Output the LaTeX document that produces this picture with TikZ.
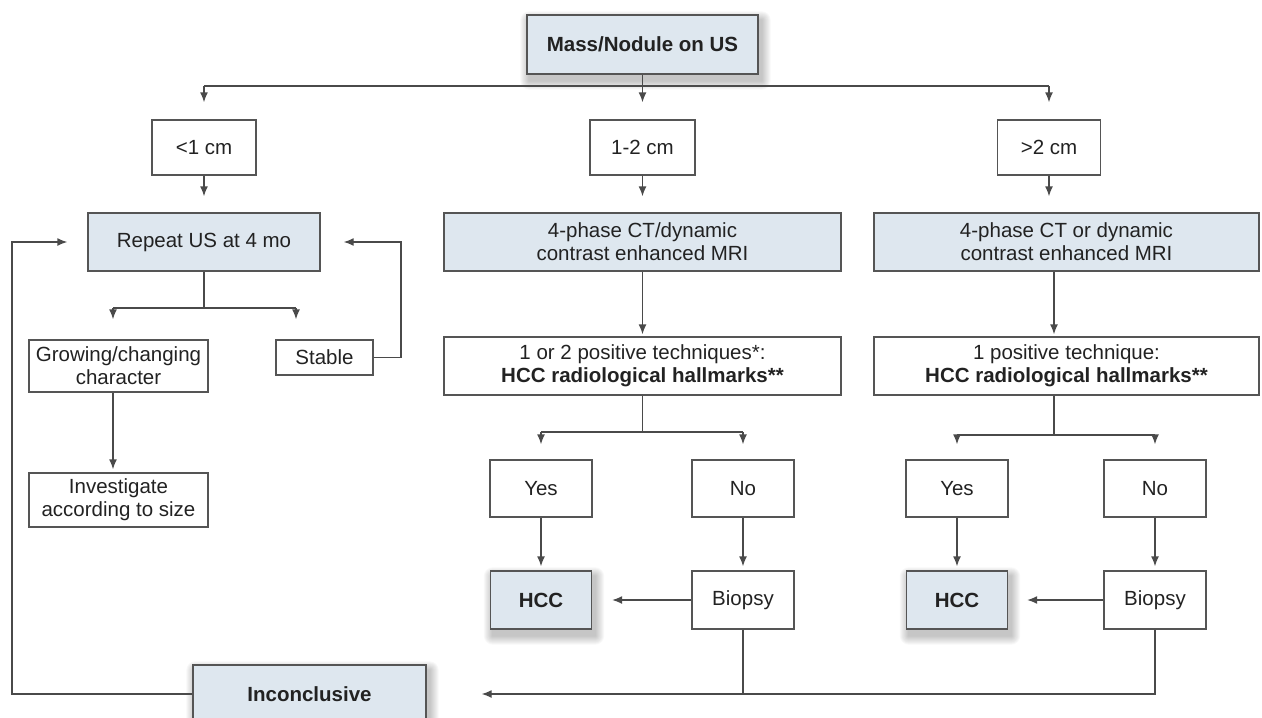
\documentclass[tikz,border=0pt]{standalone}
\usepackage{fontspec}
\setmainfont{Liberation Sans}
\usetikzlibrary{arrows.meta,backgrounds}
\definecolor{boxfill}{HTML}{DEE7EF}
\definecolor{lncol}{HTML}{4A4A4A}
\definecolor{bdcol}{HTML}{555555}
\definecolor{txcol}{HTML}{222222}
\tikzset{
  bx/.style={draw=bdcol, line width=1.4pt, inner sep=0pt, align=center, text=txcol,
    font=\fontsize{20.5}{23}\selectfont},
  fbx/.style={bx, fill=boxfill},
  sbx/.style={fbx},
  bbx/.style={sbx, font=\fontsize{20.5}{23}\selectfont\bfseries},
  ln/.style={draw=lncol, line width=1.4pt},
  arr/.style={ln, -{Latex[length=10pt,width=8pt]}},
}
\begin{document}
\begin{tikzpicture}[x=1pt,y=-1pt]
\useasboundingbox (0,0) rectangle (1262,718);
% nodes
\node[bbx, minimum width=231pt, minimum height=59pt] (mass) at (642.5,44.5) {Mass/Nodule on US};
\node[bx, minimum width=104pt, minimum height=55pt] (s1) at (204,147.5) {<1 cm};
\node[bx, minimum width=105pt, minimum height=55pt] (s2) at (642.5,147.5) {1-2 cm};
\node[bx, minimum width=103pt, minimum height=55pt] (s3) at (1049,147.5) {>2 cm};
\node[fbx, minimum width=232pt, minimum height=58pt] (rep) at (204,242) {Repeat US at 4 mo};
\node[fbx, minimum width=397pt, minimum height=58pt] (ct1) at (642.5,242) {4-phase CT/dynamic\\contrast enhanced MRI};
\node[fbx, minimum width=385pt, minimum height=58pt] (ct2) at (1066.5,242) {4-phase CT or dynamic\\contrast enhanced MRI};
\node[bx, minimum width=179pt, minimum height=52pt] (grow) at (118.5,366) {Growing/changing\\character};
\node[bx, minimum width=97pt, minimum height=35pt] (stable) at (324.5,357.5) {Stable};
\node[bx, minimum width=179pt, minimum height=54pt] (inv) at (118.5,500) {Investigate\\according to size};
\node[bx, minimum width=397pt, minimum height=58pt] (pos1) at (642.5,366) {1 or 2 positive techniques*:\\\textbf{HCC radiological hallmarks**}};
\node[bx, minimum width=385pt, minimum height=58pt] (pos2) at (1066.5,366) {1 positive technique:\\\textbf{HCC radiological hallmarks**}};
\node[bx, minimum width=102pt, minimum height=57pt] (yes1) at (541,488.5) {Yes};
\node[bx, minimum width=102pt, minimum height=57pt] (no1) at (743,488.5) {No};
\node[bx, minimum width=102pt, minimum height=57pt] (yes2) at (957,488.5) {Yes};
\node[bx, minimum width=102pt, minimum height=57pt] (no2) at (1155,488.5) {No};
\node[bbx, minimum width=101pt, minimum height=58pt] (hcc1) at (541,600) {HCC};
\node[bx, minimum width=102pt, minimum height=58pt] (bio1) at (743,600) {Biopsy};
\node[bbx, minimum width=101pt, minimum height=58pt] (hcc2) at (957,600) {HCC};
\node[bx, minimum width=102pt, minimum height=58pt] (bio2) at (1155,600) {Biopsy};
\node[bbx, minimum width=233pt, minimum height=58pt] (inc) at (309.5,694) {Inconclusive};
% soft shadows
\begin{scope}[on background layer]
\foreach \n in {mass,hcc1,hcc2,inc}{
  \foreach \e in {1,...,9}{
    \fill[black, opacity=0.028, rounded corners=\e pt]
      ([shift={(3-\e,6-\e)}]\n.north west) rectangle ([shift={(3+\e,6+\e)}]\n.south east);
  }
}
\end{scope}
% junctions
\coordinate (j0) at (642.5,86);
\coordinate (jL) at (204,86);
\coordinate (jR) at (1049,86);
\coordinate (r0) at (204,308);
\coordinate (g1) at (113,308);
\coordinate (g2) at (296,308);
\coordinate (sR) at (401,242);
\coordinate (p0) at (642.5,432);
\coordinate (y1) at (541,432);
\coordinate (n1) at (743,432);
\coordinate (q0) at (1054,435);
\coordinate (y2) at (957,435);
\coordinate (n2) at (1155,435);
\coordinate (lp) at (12,242);
% connectors
\draw[ln] (mass) -- (j0);
\draw[ln] (jL) -- (jR);
\draw[arr, shorten >=17pt] (jL) -- (s1);
\draw[arr, shorten >=17pt] (j0) -- (s2);
\draw[arr, shorten >=17pt] (jR) -- (s3);
\draw[arr, shorten >=16pt] (s1) -- (rep);
\draw[arr, shorten >=16pt] (s2) -- (ct1);
\draw[arr, shorten >=16pt] (s3.south) -- (s3.south |- ct2.north);
\draw[ln] (rep) -- (r0);
\draw[ln] (g1) -- (g2);
\draw[arr, shorten >=20pt] (g1) -- (g1 |- grow.north);
\draw[arr, shorten >=20pt] (g2) -- (g2 |- stable.north);
\draw[arr, shorten >=3pt] (g1 |- grow.south) -- (g1 |- inv.north);
\draw[arr, shorten >=23pt] (stable.east) -| (sR) -- (rep.east);
\draw[arr, shorten >=2pt] (ct1) -- (pos1);
\draw[arr, shorten >=2pt] (q0 |- ct2.south) -- (q0 |- pos2.north);
\draw[ln] (pos1) -- (p0);
\draw[ln] (y1) -- (n1);
\draw[arr, shorten >=15pt] (y1) -- (yes1);
\draw[arr, shorten >=15pt] (n1) -- (no1);
\draw[ln] (q0 |- pos2.south) -- (q0);
\draw[ln] (y2) -- (n2);
\draw[arr, shorten >=15pt] (y2) -- (yes2);
\draw[arr, shorten >=15pt] (n2) -- (no2);
\draw[arr, shorten >=4pt] (yes1) -- (hcc1);
\draw[arr, shorten >=4pt] (no1) -- (bio1);
\draw[arr, shorten >=4pt] (yes2) -- (hcc2);
\draw[arr, shorten >=4pt] (no2) -- (bio2);
\draw[arr, shorten >=20pt] (bio1) -- (hcc1);
\draw[arr, shorten >=19pt] (bio2) -- (hcc2);
\draw[arr, shorten >=55pt] (bio2.south) |- (inc.east);
\draw[ln] (bio1.south) -- (bio1.south |- inc.east);
\draw[arr, shorten >=20pt] (inc.west) -| (lp) -- (rep.west);
\end{tikzpicture}
\end{document}
